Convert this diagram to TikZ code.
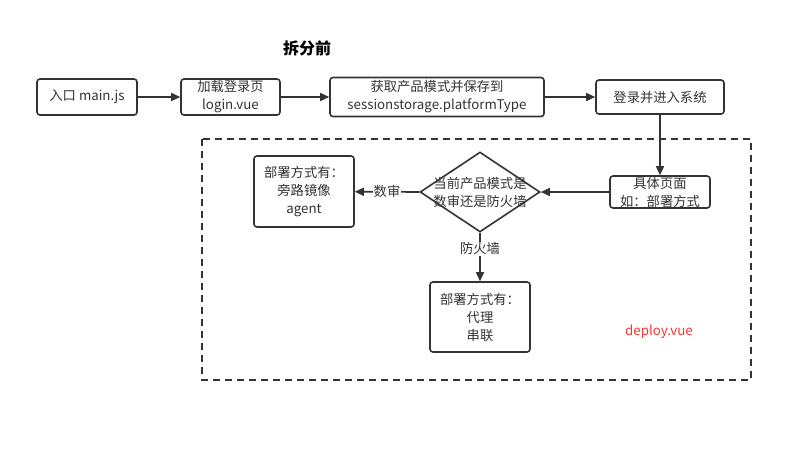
\documentclass[tikz,border=0pt]{standalone}
\usepackage{fontspec}
\setmainfont{Noto Sans CJK SC}
\usetikzlibrary{arrows.meta,shapes.geometric}
\definecolor{ink}{HTML}{333333}
\definecolor{redtxt}{HTML}{FF3333}
\tikzset{
  box/.style={draw=ink,line width=1.6pt,rounded corners=3pt,fill=white,align=center,text=ink,font=\fontsize{13.3}{18}\selectfont,inner sep=0pt},
  conn/.style={draw=ink,line width=1.6pt,-{Triangle[length=9pt,width=8pt]}},
  lbl/.style={fill=white,text=ink,font=\fontsize{13.3}{16}\selectfont,inner sep=1pt}
}
\begin{document}
\begin{tikzpicture}[x=1pt,y=-1pt]
\useasboundingbox (0,0) rectangle (810,448);
\node[font=\bfseries\fontsize{16}{18}\selectfont,text=black] (title) at (307,48) {拆分前};
\node[box,minimum width=100pt,minimum height=36pt] (main) at (87,97) {入口 main.js};
\node[box,minimum width=99pt,minimum height=36pt] (login) at (230.5,97) {加载登录页\\login.vue};
\node[box,minimum width=214pt,minimum height=39pt] (plat) at (437,97) {获取产品模式并保存到\\sessionstorage.platformType};
\node[box,minimum width=128pt,minimum height=34pt] (sys) at (660,97) {登录并进入系统};
\draw[ink,line width=1.6pt,dash pattern=on 7pt off 5pt] (202,139) rectangle (751,380);
\node[box,minimum width=100pt,minimum height=32pt] (page) at (660,192) {具体页面\\如：部署方式};
\node[diamond,draw=ink,line width=1.6pt,fill=white,minimum width=120pt,minimum height=80pt,inner sep=0pt,aspect=1.5] (dec) at (480,192) {};
\node[text=ink,font=\fontsize{13.3}{18}\selectfont,align=center] (dectxt) at (480,192) {当前产品模式是\\数审还是防火墙};
\node[box,minimum width=100pt,minimum height=71pt] (agent) at (304,191.5) {部署方式有：\\旁路镜像\\agent};
\node[box,minimum width=100pt,minimum height=70pt] (proxy) at (480,317) {部署方式有：\\代理\\串联};
\node[text=redtxt,font=\fontsize{13.3}{16}\selectfont] (deploy) at (659,332) {deploy.vue};
\draw[conn] (main) -- (login);
\draw[conn] (login) -- (plat);
\draw[conn] (plat) -- (sys);
\draw[conn] (sys) -- (page);
\draw[conn] (page) -- (dec.east);
\draw[conn] (dec.west) -- node[lbl] (l1) {数审} (agent);
\draw[conn] (dec.south) -- node[lbl,pos=0.33] (l2) {防火墙} (proxy);
\end{tikzpicture}
\end{document}
